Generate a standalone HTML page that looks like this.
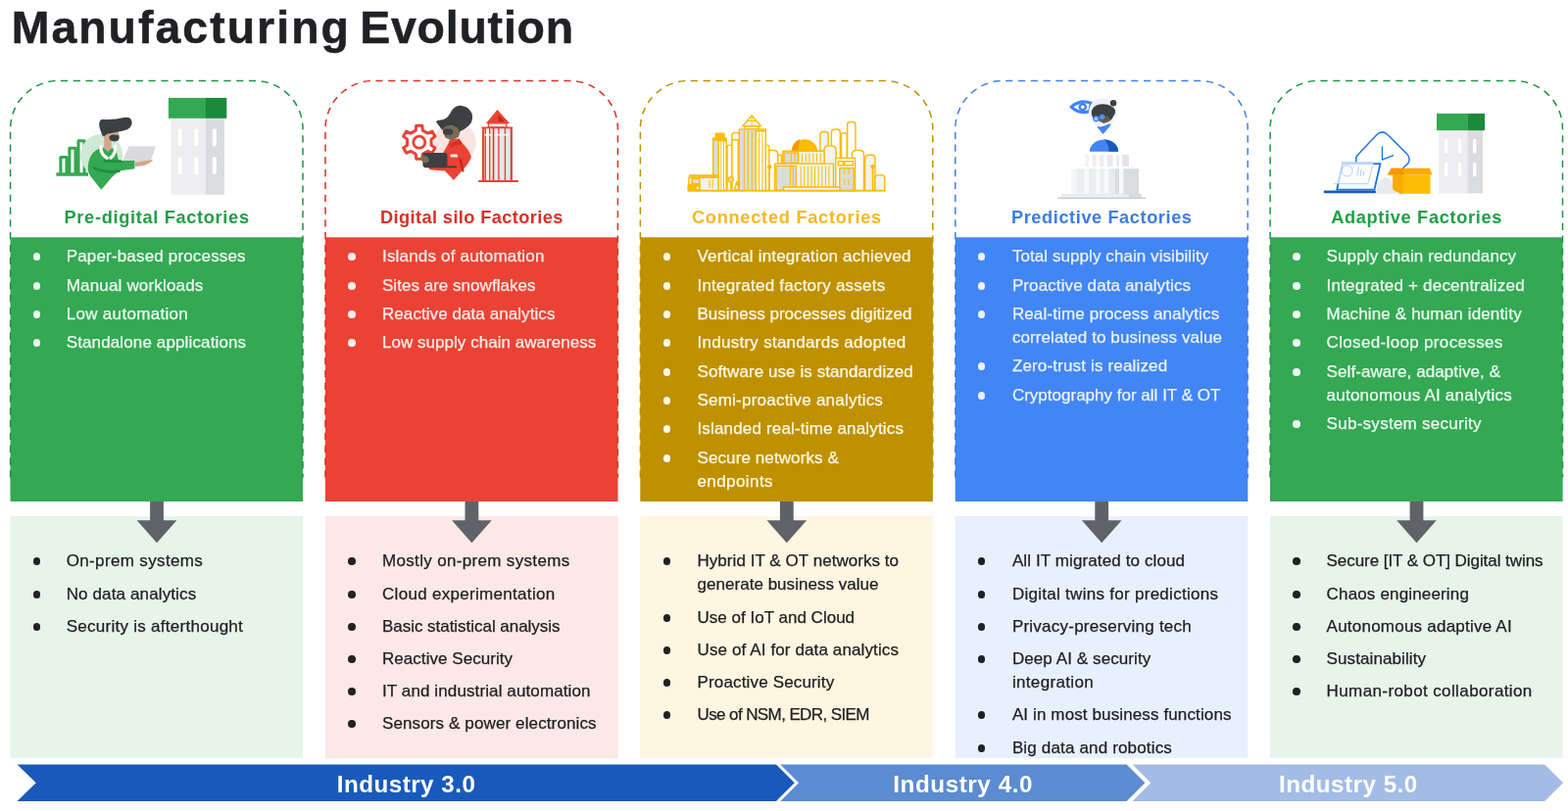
<!DOCTYPE html>
<html lang="en">
<head>
<meta charset="utf-8">
<title>Manufacturing Evolution</title>
<style>
*{box-sizing:border-box}
html,body{margin:0;padding:0;background:#fff}
body{width:1600px;height:828px;overflow:hidden;font-family:"Liberation Sans",sans-serif}
.page{position:relative;width:1600px;height:828px;overflow:hidden;background:#fff;will-change:transform}
.art{position:absolute;left:0;top:0;width:1600px;height:828px;display:block}
.title{position:absolute;left:11.7px;top:0;margin:0;font-size:46.4px;line-height:56px;font-weight:700;color:#202124;word-spacing:-3.6px;white-space:nowrap;-webkit-text-stroke:0.5px #202124}
.title .w1{letter-spacing:2.05px}
.title .w2{letter-spacing:0.82px}
.col{position:absolute;top:0;width:298.6px;height:0}
.col h2{position:absolute;left:0;top:208.6px;width:298.6px;margin:0;text-align:center;font-size:18.2px;line-height:26px;font-weight:700;white-space:nowrap}
.col ul{list-style:none;margin:0;padding:0}
.col li{position:absolute;left:57.2px;font-size:17px;line-height:24px;white-space:nowrap;-webkit-text-stroke:0.25px currentColor}
.col li span{display:block}
.col li::before{content:"";position:absolute;left:-34px;top:8.2px;width:7.6px;height:7.6px;border-radius:50%;background:currentColor}
.col .bot{color:#202124}
.era{position:absolute;top:781.5px;height:37.5px;line-height:37.5px;font-size:24.2px;font-weight:700;color:#fff;text-align:left;white-space:nowrap}

.e1{left:343.8px;letter-spacing:0.48px}
.e2{left:911.2px;letter-spacing:0.6px}
.e3{left:1305px;letter-spacing:0.5px}

.c0 h2{color:#1EA045}.c0 .top{color:#EDFAF1}.c0 li{left:57.2px}.c0 li::before{left:-33.8px}
.c1 h2{color:#D93025}.c1 .top{color:#FFEDEA}.c1 li{left:58.1px}.c1 li::before{left:-34.9px}
.c2 h2{color:#F6B822}.c2 .top{color:#FFF9E3}.c2 li{left:58.2px}.c2 li::before{left:-34.9px}
.c3 h2{color:#3B7DE4}.c3 .top{color:#ECF3FF}.c3 li{left:58.2px}.c3 li::before{left:-35.0px}
.c4 h2{color:#1EA045}.c4 .top{color:#EDFAF1}.c4 li{left:57.6px}.c4 li::before{left:-34.4px}
</style>
</head>
<body>
<main class="page">
<svg class="art" width="1600" height="828" viewBox="0 0 1600 828" aria-hidden="true">
<g>
<rect x="10.50" y="242.3" width="298.6" height="269.7" fill="#34A853"/>
<rect x="10.50" y="527" width="298.6" height="247" fill="#E6F4EA"/>
<path d="M10.60 487.50 V131.50 A49 49 0 0 1 59.60 82.50 H260.00 A49 49 0 0 1 309.00 131.50 V487.50" fill="none" stroke="#1A9441" stroke-width="1.5" stroke-dasharray="7.2 5.6"/>
<path d="M153.10 512h13.8v19.3h13.4l-20.3 23l-20.3 -23h13.4z" fill="#5F6368"/>
</g>
<g>
<rect x="331.90" y="242.3" width="298.6" height="269.7" fill="#EA4335"/>
<rect x="331.90" y="527" width="298.6" height="247" fill="#FCE8E6"/>
<path d="M332.00 487.50 V131.50 A49 49 0 0 1 381.00 82.50 H581.40 A49 49 0 0 1 630.40 131.50 V487.50" fill="none" stroke="#D93025" stroke-width="1.5" stroke-dasharray="7.2 5.6"/>
<path d="M474.50 512h13.8v19.3h13.4l-20.3 23l-20.3 -23h13.4z" fill="#5F6368"/>
</g>
<g>
<rect x="653.30" y="242.3" width="298.6" height="269.7" fill="#BF9000"/>
<rect x="653.30" y="527" width="298.6" height="247" fill="#FEF6E1"/>
<path d="M653.40 487.50 V131.50 A49 49 0 0 1 702.40 82.50 H902.80 A49 49 0 0 1 951.80 131.50 V487.50" fill="none" stroke="#BF9000" stroke-width="1.5" stroke-dasharray="7.2 5.6"/>
<path d="M795.90 512h13.8v19.3h13.4l-20.3 23l-20.3 -23h13.4z" fill="#5F6368"/>
</g>
<g>
<rect x="974.70" y="242.3" width="298.6" height="269.7" fill="#4285F4"/>
<rect x="974.70" y="527" width="298.6" height="247" fill="#E8F0FE"/>
<path d="M974.80 487.50 V131.50 A49 49 0 0 1 1023.80 82.50 H1224.20 A49 49 0 0 1 1273.20 131.50 V487.50" fill="none" stroke="#3E80EC" stroke-width="1.5" stroke-dasharray="7.2 5.6"/>
<path d="M1117.30 512h13.8v19.3h13.4l-20.3 23l-20.3 -23h13.4z" fill="#5F6368"/>
</g>
<g>
<rect x="1296.00" y="242.3" width="298.6" height="269.7" fill="#34A853"/>
<rect x="1296.00" y="527" width="298.6" height="247" fill="#E6F4EA"/>
<path d="M1296.10 487.50 V131.50 A49 49 0 0 1 1345.10 82.50 H1545.50 A49 49 0 0 1 1594.50 131.50 V487.50" fill="none" stroke="#1A9441" stroke-width="1.5" stroke-dasharray="7.2 5.6"/>
<path d="M1438.60 512h13.8v19.3h13.4l-20.3 23l-20.3 -23h13.4z" fill="#5F6368"/>
</g>
<path d="M17.5 780.5H792l18.75 18.75L792 818H17.5l19.25 -18.75z" fill="#185ABC"/>
<path d="M796.3 780.5H1149.6l18.75 18.75L1149.6 818H796.3l18.75 -18.75z" fill="#5B8BD0"/>
<path d="M1155.5 780.5H1576.25l18.75 18.75L1576.25 818H1155.5l18.75 -18.75z" fill="#A3BCE5"/>
<g>
<path d="M57.4 177.9H90" stroke="#34A853" stroke-width="3.5" fill="none"/>
<path d="M61.9 177V160.5h6.1V177M70.9 177V151.3h6.1V177M80 177V143.7h6.1V177" stroke="#34A853" stroke-width="3.1" fill="none" stroke-linejoin="round"/>
<circle cx="103.6" cy="158.4" r="21.6" fill="#CEEAD6"/>
<path d="M131.5 149.2h25.8q1.8 0 1.2 1.7l-4.6 12.6q-.6 1.6 -2.3 1.6h-27z" fill="#D9DADD"/>
<path d="M103.3 193.8L92 179.5Q88.6 174 90.2 166.5Q92.5 153.5 104 150.8L112.5 150.5L118.5 153L121 164H137.5V172.2L121.5 174.6L114.5 180.5z" fill="#34A853"/>
<path d="M96 171.5q12 5.5 25.5 3.2" stroke="#1E8E3E" stroke-width="2.8" fill="none" stroke-linecap="round"/>
<path d="M107 164.6h16" stroke="#1E8E3E" stroke-width="2.6" fill="none" stroke-linecap="round"/>
<path d="M106.2 136h7l.6 15.5l-3.6 3.5l-4 -3.5z" fill="#D2A98A"/>
<path d="M103 149.5q-.6 8 6.2 11.8M117.5 149.5q1 7 -4.6 11.6" stroke="#fff" stroke-width="3.3" fill="none" stroke-linecap="round"/>
<path d="M104.5 128h14l3.2 9.5l-4 6.5h-8.5l-4.7 -6z" fill="#D2A98A"/>
<path d="M104.6 138.4Q100 128.5 101.6 124.2Q102.6 121.6 106 121.9Q118 122.3 126.5 120Q133.5 118.6 134.6 124.2Q135.3 130.6 127 133.3L112.5 136.2Q108 136.6 106.6 139.2z" fill="#3C4043"/>
<path d="M111.2 140.2q1.2 -3 5.4 -2.6l4.6 .3q1.3 3.4 -.9 5.6q-4.6 2 -8 -.5z" fill="#3C4043"/>
<path d="M138 165.5q6 -.2 10 -1.4l7.6 -.8q.9 1 -1.6 2.3q-5.6 4 -11 4l-5 .6z" fill="#D2A98A"/>
</g>
<g transform="translate(171.90 99.90) scale(1)">
<rect x="2.6" y="20.6" width="35.6" height="78.2" fill="#EEEEF0"/>
<rect x="38" y="20.6" width="19" height="78.2" fill="#DADCE0"/>
<rect x="0" y="0" width="38.2" height="20.9" fill="#34A853"/>
<rect x="38" y="0" width="21.4" height="20.9" fill="#1B8A3B"/>
<rect x="9.8" y="31.4" width="4" height="18.2" rx="2" fill="#fff"/>
<rect x="9.8" y="60.1" width="4" height="18.2" rx="2" fill="#fff"/>
<rect x="26.5" y="31.4" width="4" height="18.2" rx="2" fill="#fff"/>
<rect x="26.5" y="60.1" width="4" height="18.2" rx="2" fill="#fff"/>
<rect x="44.9" y="31.4" width="4" height="18.2" rx="2" fill="#fff"/>
<rect x="44.9" y="60.1" width="4" height="18.2" rx="2" fill="#fff"/>
</g>
<g>
<circle cx="464.2" cy="145.8" r="21.6" fill="#FCE4E1"/>
<path d="M424.28 133.10 L424.75 128.27 L430.85 128.27 L431.32 133.10 L436.52 136.11 L440.94 134.10 L443.98 139.37 L440.04 142.19 L440.04 148.21 L443.98 151.03 L440.94 156.30 L436.52 154.29 L431.32 157.30 L430.85 162.13 L424.75 162.13 L424.28 157.30 L419.08 154.29 L414.66 156.30 L411.62 151.03 L415.56 148.21 L415.56 142.19 L411.62 139.37 L414.66 134.10 L419.08 136.11Z" fill="#fff" stroke="#EA4335" stroke-width="3.0" stroke-linejoin="round"/>
<circle cx="427.8" cy="145.2" r="6" fill="#fff" stroke="#EA4335" stroke-width="2.8"/>
<path d="M463 184L454 174.5L440 173.6Q436.5 172.6 437.5 169L451 158L457.5 146.5L459 142.5L468.5 141.5L472 146.5Q478 152 481 160Q478.5 167 473 172.5z" fill="#EA4335"/>
<path d="M458.6 146.6l10.6 -3.8l2.6 3.6l-12 4.6z" fill="#D93025"/>
<path d="M469.5 162.5l3 12" stroke="#C5221F" stroke-width="2.2" fill="none" stroke-linecap="round"/>
<rect x="459.6" y="157.4" width="7.4" height="3.2" rx="1.2" fill="#E8EAED"/>
<path d="M451 131.5q1 -3.4 6 -3.6l9 1l3.5 5.5l-1.6 5.4l-6.6 3.6l-7 -3z" fill="#7A6A58"/>
<rect x="452" y="131.6" width="10.4" height="6.2" rx="3" fill="#3C4043"/>
<path d="M451 132.4L445 124.4Q445.6 122.6 448 122.8Q456 122.4 459.4 115.4Q463 108 469.6 107.8Q477.6 108.2 481.4 115.4Q483.4 122.4 479.2 127.6Q474.6 132.4 468.4 134.4L467 130.6Q460 126.4 453.6 129.6z" fill="#3C4043"/>
<rect x="431.4" y="156" width="25" height="14.8" rx="2.4" fill="#3C4043"/>
<path d="M434 170.4h31" stroke="#3C4043" stroke-width="1.8" stroke-linecap="round"/>
<ellipse cx="433.6" cy="162.6" rx="4.4" ry="3.4" fill="#7A6A58" transform="rotate(35 433.6 162.6)"/>
<rect x="492" y="130" width="11.4" height="54.6" fill="#FDEDEB"/>
<rect x="503.4" y="130" width="19.4" height="54.6" fill="#E6E6EC"/>
<path d="M495.3 131V184.6M499.7 131V184.6M508.9 131V184.6M515.4 131V184.6" stroke="#EA4335" stroke-width="1.4" fill="none"/>
<path d="M494 137.6h8.4M504.6 137.6h16" stroke="#FDF3F2" stroke-width="1.6" fill="none"/>
<path d="M503.5 130V184.6" stroke="#D93025" stroke-width="1.5" fill="none"/>
<path d="M493.1 130V184.6" stroke="#EA4335" stroke-width="2.2" fill="none"/>
<path d="M521.8 130V184.6" stroke="#D5493D" stroke-width="2.2" fill="none"/>
<path d="M491.4 130.4H523.2" stroke="#EA4335" stroke-width="1.8" fill="none"/>
<path d="M488.2 185H529" stroke="#EA4335" stroke-width="2.2"/>
<rect x="498.4" y="125.6" width="18.4" height="4.2" fill="#FDEDEB" stroke="#EA4335" stroke-width="1.3"/>
<path d="M507.5 112.6L519.4 125.8H496.6z" fill="#EA4335" stroke="#EA4335" stroke-width="1" stroke-linejoin="round"/>
<path d="M508.8 117.6L515 124.2h-6.2z" fill="#C5221F"/>
</g>
<g transform="translate(690 105) scale(0.14375)" stroke="#FBBC04" stroke-width="10" stroke-linejoin="round" fill="#fff">
<path d="M1022 622V225.88Q1022 205 1042.88 205H1059.12Q1080 205 1080 225.88V622z" fill="#F1F3F4"/>
<path d="M1102 622V210.32Q1102 188 1124.32 188H1141.68Q1164 188 1164 210.32V622z" fill="#fff"/>
<path d="M1172 622V229.4Q1172 215 1186.4 215H1197.6Q1212 215 1212 229.4V622z" fill="#fff"/>
<path d="M1215 622V155.88Q1215 135 1235.88 135H1252.12Q1273 135 1273 155.88V622z" fill="#fff"/>
<path d="M1050 622V335.6Q1050 305 1080.6 305H1104.4Q1135 305 1135 335.6V622z" fill="#F1F3F4"/>
<path d="M1340 622V395.92Q1340 370 1365.92 370H1386.08Q1412 370 1412 395.92V622z" fill="#F1F3F4"/>
<path d="M1412 622V536.48Q1412 512 1436.48 512H1455.52Q1480 512 1480 536.48V622z" fill="#F1F3F4"/>
<path d="M1248 622V368.24Q1248 338 1278.24 338H1301.76Q1332 338 1332 368.24V622z" fill="#fff"/>
<rect x="1132" y="392" width="138" height="230" rx="0" fill="#fff"/>
<rect x="1150" y="415" width="35" height="28" rx="0" fill="#fff"/>
<rect x="1195" y="415" width="60" height="28" rx="0" fill="#fff"/>
<rect x="1160" y="462" width="100" height="160" rx="0" fill="#DADCE0"/>
<path d="M1195.0 470V510M1225.0 470V510" stroke="#FBBC04" stroke-width="7" fill="none"/>
<path d="M1195.0 540V585M1225.0 540V585" stroke="#FBBC04" stroke-width="7" fill="none"/>
<path d="M1395 622V455" stroke-width="12"/>
<circle cx="1395" cy="452" r="10" fill="#FBBC04"/>
<path d="M362 622V312.24Q362 300 374.24 300H383.76Q396 300 396 312.24V622z" fill="#fff"/>
<path d="M396 622V232.16Q396 212 416.16 212H431.84Q452 212 452 232.16V622z" fill="#fff"/>
<rect x="396" y="262" width="44" height="360" rx="0" fill="#fff"/>
<path d="M640 622V367.52Q640 338 669.52 338H692.48Q722 338 722 367.52V622z" fill="#fff"/>
<path d="M630 622V310.8Q630 300 640.8 300H649.2Q660 300 660 310.8V622z" fill="#fff"/>
<rect x="722" y="372" width="26" height="60" rx="0" fill="#fff"/>
<rect x="280" y="218" width="60" height="34" rx="0" fill="#FBBC04"/>
<rect x="262" y="252" width="94" height="370" rx="0" fill="#DADCE0"/>
<rect x="300" y="270" width="56" height="352" rx="0" fill="#fff"/>
<path d="M318.7 275V622M337.3 275V622" stroke="#FBBC04" stroke-width="7" fill="none"/>
<path d="M262 262h94" stroke-width="14"/>
<path d="M537 90L602 165H472z" fill="#fff"/>
<path d="M537 95V165M505 128h64" fill="none" stroke-width="7"/>
<rect x="488" y="165" width="98" height="22" rx="0" fill="#F1F3F4"/>
<rect x="447" y="187" width="188" height="435" rx="0" fill="#DADCE0"/>
<rect x="565" y="200" width="70" height="422" rx="0" fill="#fff"/>
<path d="M482.5 200V622M510.0 200V622M537.5 200V622" stroke="#FBBC04" stroke-width="7" fill="none"/>
<path d="M588.3 200V622M611.7 200V622" stroke="#FBBC04" stroke-width="7" fill="none"/>
<path d="M575 212h55M575 236h55" stroke="#fff" stroke-width="5"/>
<path d="M822 340A90 90 0 0 1 1000 340z" fill="#FBBC04"/>
<path d="M822 340A90 90 0 0 1 878 258L866 340z" fill="#F29900" stroke="none"/>
<rect x="757" y="342" width="294" height="90" rx="0" fill="#F1F3F4"/>
<rect x="765" y="355" width="100" height="72" rx="0" fill="#DADCE0"/>
<path d="M816.0 360V420M842.0 360V420M868.0 360V420M894.0 360V420M920.0 360V420M946.0 360V420M972.0 360V420M998.0 360V420M1024.0 360V420" stroke="#FBBC04" stroke-width="7" fill="none"/>
<rect x="700" y="432" width="416" height="190" rx="0" fill="#F1F3F4"/>
<rect x="710" y="448" width="140" height="172" rx="0" fill="#DADCE0"/>
<path d="M810.0 448V600M830.0 448V600" stroke="#FBBC04" stroke-width="7" fill="none"/>
<path d="M885.0 450V600M910.0 450V600M935.0 450V600M960.0 450V600M985.0 450V600M1010.0 450V600M1035.0 450V600M1060.0 450V600M1085.0 450V600" stroke="#FBBC04" stroke-width="7" fill="none"/>
<rect x="762" y="598" width="400" height="24" rx="0" fill="#F1F3F4"/>
<path d="M662 622V460" stroke-width="12"/>
<circle cx="662" cy="455" r="11" fill="#FBBC04"/>
<path d="M388 622V550" stroke-width="9"/>
<circle cx="388" cy="545" r="18" fill="#DADCE0"/>
<path d="M430 560l-16 55h32z" fill="#F1F3F4"/>
<rect x="90" y="530" width="210" height="92" rx="0" fill="#F1F3F4"/>
<rect x="112" y="540" width="55" height="36" rx="0" fill="#DADCE0"/>
<rect x="85" y="582" width="82" height="40" rx="0" fill="#FBBC04"/>
<rect x="140" y="590" width="24" height="28" rx="0" fill="#F1F3F4"/>
<path d="M236.7 545V605M258.3 545V605" stroke="#FBBC04" stroke-width="7" fill="none"/>
<path d="M92 518h208" stroke-width="18"/>
<path d="M85 624H1482" stroke-width="10" stroke-linecap="round"/>
</g>
<g transform="translate(1040 90) scale(0.14493)">
<path d="M366 132Q432 78 506 106L496 160Q430 190 366 132z" fill="#fff" stroke="#4285F4" stroke-width="22" stroke-linejoin="round"/>
<circle cx="447" cy="133" r="21" fill="#fff" stroke="#4285F4" stroke-width="17"/>
<path d="M590 322L515 235A100 100 0 1 1 665 235z" fill="#EDF1FC"/>
<path d="M590 322L548 272L645 250L640 265z" fill="#4285F4"/>
<path d="M560 262l60 -14l-8 26l-40 8z" fill="#fff" opacity=".85"/>
<path d="M590 322L553 278L640 256L636 268z" fill="#4285F4"/>
<path d="M545 185h100l-8 48l-42 16l-40 -22z" fill="#6B5B4B"/>
<path d="M515 200Q495 150 540 122Q600 100 650 128Q690 150 672 185Q655 215 640 232L632 205Q600 185 560 196Q530 205 522 215z" fill="#3C4043"/>
<circle cx="663" cy="105" r="22" fill="#3C4043"/>
<circle cx="541" cy="216" r="17" fill="#AECBFA" stroke="#4285F4" stroke-width="9"/>
<circle cx="584" cy="203" r="15" fill="#5E97F6" stroke="#4285F4" stroke-width="9"/>
<path d="M496 446A101 84 0 0 1 698 446z" fill="#4285F4"/>
<path d="M600 362A101 84 0 0 1 698 446H632Q632 395 600 362z" fill="#185ABC"/>
<rect x="430" y="470" width="342" height="82" fill="#F1F3F4"/>
<rect x="430" y="470" width="36" height="82" fill="#fff"/>
<rect x="466" y="470" width="26" height="82" fill="#F1F3F4"/>
<rect x="492" y="470" width="24" height="82" fill="#fff"/>
<rect x="516" y="470" width="26" height="82" fill="#EEEEF0"/>
<rect x="542" y="470" width="24" height="82" fill="#fff"/>
<rect x="566" y="470" width="30" height="82" fill="#EEEEF0"/>
<rect x="596" y="470" width="24" height="82" fill="#fff"/>
<rect x="620" y="470" width="40" height="82" fill="#E8EAED"/>
<rect x="660" y="470" width="26" height="82" fill="#fff"/>
<rect x="686" y="470" width="18" height="82" fill="#E8EAED"/>
<rect x="704" y="470" width="22" height="82" fill="#fff"/>
<rect x="726" y="470" width="46" height="82" fill="#E2E3E6"/>
<rect x="368" y="568" width="474" height="180" fill="#F1F3F4"/>
<rect x="368" y="568" width="40" height="180" fill="#F4F5F6"/>
<rect x="408" y="568" width="52" height="180" fill="#ECEDEF"/>
<rect x="460" y="568" width="30" height="180" fill="#F8F9FA"/>
<rect x="490" y="568" width="50" height="180" fill="#ECEDEF"/>
<rect x="540" y="568" width="30" height="180" fill="#F8F9FA"/>
<rect x="570" y="568" width="30" height="180" fill="#ECEDEF"/>
<rect x="600" y="568" width="30" height="180" fill="#F8F9FA"/>
<rect x="630" y="568" width="44" height="180" fill="#E8EAED"/>
<rect x="674" y="568" width="30" height="180" fill="#DADCE0"/>
<rect x="704" y="568" width="30" height="180" fill="#F8F9FA"/>
<rect x="734" y="568" width="108" height="180" fill="#DADCE0"/>
<rect x="296" y="745" width="566" height="26" fill="#ECEDEF"/>
<rect x="772" y="745" width="90" height="26" fill="#DADCE0"/>
<rect x="268" y="770" width="624" height="9" fill="#C4C7CC"/>
</g>
<g transform="translate(1340 100) scale(0.13289)">
<path d="M330 490V470Q325 455 345 435L490 280Q530 245 570 280L720 430Q750 465 730 500L690 540" fill="none" stroke="#1A73E8" stroke-width="11" stroke-linecap="round" stroke-linejoin="round"/>
<path d="M530 375V475L615 442" fill="none" stroke="#1A73E8" stroke-width="10" stroke-linecap="round" stroke-linejoin="round"/>
<path d="M480 735Q490 640 550 610Q610 610 625 700L650 735z" fill="#E8EAED"/>
<path d="M225 505H515L470 705H182z" fill="#fff" stroke="#1A73E8" stroke-width="14" stroke-linejoin="round"/>
<path d="M90 722H472" stroke="#185ABC" stroke-width="20" stroke-linecap="round"/>
<path d="M215 495H465L420 660H155" fill="#fff" fill-opacity=".7" stroke="#8AB4F8" stroke-width="5"/>
<circle cx="260" cy="560" r="42" fill="none" stroke="#8AB4F8" stroke-width="5"/>
<path d="M350 530l-12 70M370 545l-8 55M388 565l-5 35" stroke="#8AB4F8" stroke-width="5" fill="none"/>
<path d="M610 590H900V735H670Q625 720 610 700z" fill="#FBBC04"/>
<path d="M610 590H690V735H670L615 700z" fill="#F9AB00"/>
<path d="M600 540H895L915 590H570z" fill="#F9AB00"/>
<path d="M600 540H690L700 590H570z" fill="#F29900"/>
</g>
<g transform="translate(1466.00 115.90) scale(0.825)">
<rect x="2.6" y="20.6" width="35.6" height="78.2" fill="#EEEEF0"/>
<rect x="38" y="20.6" width="19" height="78.2" fill="#DADCE0"/>
<rect x="0" y="0" width="38.2" height="20.9" fill="#34A853"/>
<rect x="38" y="0" width="21.4" height="20.9" fill="#1B8A3B"/>
<rect x="9.8" y="31.4" width="4" height="18.2" rx="2" fill="#fff"/>
<rect x="9.8" y="60.1" width="4" height="18.2" rx="2" fill="#fff"/>
<rect x="26.5" y="31.4" width="4" height="18.2" rx="2" fill="#fff"/>
<rect x="26.5" y="60.1" width="4" height="18.2" rx="2" fill="#fff"/>
<rect x="44.9" y="31.4" width="4" height="18.2" rx="2" fill="#fff"/>
<rect x="44.9" y="60.1" width="4" height="18.2" rx="2" fill="#fff"/>
</g>
</svg>
<h1 class="title"><span class="w1">Manufacturing</span> <span class="w2">Evolution</span></h1>
<section class="col c0" style="left:10.50px">
<h2 style="letter-spacing:0.681px;margin-left:0.341px">Pre-digital Factories</h2>
<ul class="top">
<li style="top:250px">
<span style="letter-spacing:0.169px">Paper-based processes</span>
</li>
<li style="top:280px">
<span style="letter-spacing:0.174px">Manual workloads</span>
</li>
<li style="top:309px">
<span style="letter-spacing:0.313px">Low automation</span>
</li>
<li style="top:338px">
<span style="letter-spacing:0.129px">Standalone applications</span>
</li>
</ul>
<ul class="bot">
<li style="top:561px">
<span style="letter-spacing:0.358px">On-prem systems</span>
</li>
<li style="top:595px">
<span style="letter-spacing:0.129px">No data analytics</span>
</li>
<li style="top:628px">
<span style="letter-spacing:0.272px">Security is afterthought</span>
</li>
</ul>
</section>
<section class="col c1" style="left:331.90px">
<h2 style="letter-spacing:0.395px;margin-left:0.198px">Digital silo Factories</h2>
<ul class="top">
<li style="top:250px">
<span style="letter-spacing:0.190px">Islands of automation</span>
</li>
<li style="top:280px">
<span style="letter-spacing:0.030px">Sites are snowflakes</span>
</li>
<li style="top:309px">
<span style="letter-spacing:0.073px">Reactive data analytics</span>
</li>
<li style="top:338px">
<span style="letter-spacing:0.037px">Low supply chain awareness</span>
</li>
</ul>
<ul class="bot">
<li style="top:561px">
<span style="letter-spacing:0.332px">Mostly on-prem systems</span>
</li>
<li style="top:595px">
<span style="letter-spacing:0.305px">Cloud experimentation</span>
</li>
<li style="top:628px">
<span style="letter-spacing:-0.032px">Basic statistical analysis</span>
</li>
<li style="top:661px">
<span style="letter-spacing:0.049px">Reactive Security</span>
</li>
<li style="top:694px">
<span style="letter-spacing:0.111px">IT and industrial automation</span>
</li>
<li style="top:727px">
<span style="letter-spacing:0.121px">Sensors &amp; power electronics</span>
</li>
</ul>
</section>
<section class="col c2" style="left:653.30px">
<h2 style="letter-spacing:0.743px;margin-left:0.372px">Connected Factories</h2>
<ul class="top">
<li style="top:250px">
<span style="letter-spacing:0.192px">Vertical integration achieved</span>
</li>
<li style="top:280px">
<span style="letter-spacing:0.230px">Integrated factory assets</span>
</li>
<li style="top:309px">
<span style="letter-spacing:0.029px">Business processes digitized</span>
</li>
<li style="top:338px">
<span style="letter-spacing:0.272px">Industry standards adopted</span>
</li>
<li style="top:368px">
<span style="letter-spacing:0.075px">Software use is standardized</span>
</li>
<li style="top:397px">
<span style="letter-spacing:0.223px">Semi-proactive analytics</span>
</li>
<li style="top:426px">
<span style="letter-spacing:0.165px">Islanded real-time analytics</span>
</li>
<li style="top:456px">
<span style="letter-spacing:0.104px">Secure networks &amp;</span>
<span style="letter-spacing:0.419px">endpoints</span>
</li>
</ul>
<ul class="bot">
<li style="top:561px">
<span style="letter-spacing:0.047px">Hybrid IT &amp; OT networks to</span>
<span style="letter-spacing:0.035px">generate business value</span>
</li>
<li style="top:619px">
<span style="letter-spacing:0.013px">Use of IoT and Cloud</span>
</li>
<li style="top:652px">
<span style="letter-spacing:0.121px">Use of AI for data analytics</span>
</li>
<li style="top:685px">
<span style="letter-spacing:0.156px">Proactive Security</span>
</li>
<li style="top:718px">
<span style="letter-spacing:-0.599px">Use of NSM, EDR, SIEM</span>
</li>
</ul>
</section>
<section class="col c3" style="left:974.70px">
<h2 style="letter-spacing:0.585px;margin-left:0.293px">Predictive Factories</h2>
<ul class="top">
<li style="top:250px">
<span style="letter-spacing:0.072px">Total supply chain visibility</span>
</li>
<li style="top:280px">
<span style="letter-spacing:0.115px">Proactive data analytics</span>
</li>
<li style="top:309px">
<span style="letter-spacing:0.131px">Real-time process analytics</span>
<span style="letter-spacing:0.090px">correlated to business value</span>
</li>
<li style="top:362px">
<span style="letter-spacing:0.157px">Zero-trust is realized</span>
</li>
<li style="top:392px">
<span style="letter-spacing:0.009px">Cryptography for all IT &amp; OT</span>
</li>
</ul>
<ul class="bot">
<li style="top:561px">
<span style="letter-spacing:0.111px">All IT migrated to cloud</span>
</li>
<li style="top:595px">
<span style="letter-spacing:0.283px">Digital twins for predictions</span>
</li>
<li style="top:628px">
<span style="letter-spacing:0.238px">Privacy-preserving tech</span>
</li>
<li style="top:661px">
<span style="letter-spacing:0.092px">Deep AI &amp; security</span>
<span style="letter-spacing:0.337px">integration</span>
</li>
<li style="top:718px">
<span style="letter-spacing:0.122px">AI in most business functions</span>
</li>
<li style="top:752px">
<span style="letter-spacing:0.161px">Big data and robotics</span>
</li>
</ul>
</section>
<section class="col c4" style="left:1296.00px">
<h2 style="letter-spacing:0.680px;margin-left:0.340px">Adaptive Factories</h2>
<ul class="top">
<li style="top:250px">
<span style="letter-spacing:0.117px">Supply chain redundancy</span>
</li>
<li style="top:280px">
<span style="letter-spacing:0.198px">Integrated + decentralized</span>
</li>
<li style="top:309px">
<span style="letter-spacing:0.150px">Machine &amp; human identity</span>
</li>
<li style="top:338px">
<span style="letter-spacing:0.337px">Closed-loop processes</span>
</li>
<li style="top:368px">
<span style="letter-spacing:0.076px">Self-aware, adaptive, &amp;</span>
<span style="letter-spacing:0.223px">autonomous AI analytics</span>
</li>
<li style="top:421px">
<span style="letter-spacing:0.271px">Sub-system security</span>
</li>
</ul>
<ul class="bot">
<li style="top:561px">
<span style="letter-spacing:-0.058px">Secure [IT &amp; OT] Digital twins</span>
</li>
<li style="top:595px">
<span style="letter-spacing:0.158px">Chaos engineering</span>
</li>
<li style="top:628px">
<span style="letter-spacing:0.227px">Autonomous adaptive AI</span>
</li>
<li style="top:661px">
<span style="letter-spacing:0.095px">Sustainability</span>
</li>
<li style="top:694px">
<span style="letter-spacing:0.391px">Human-robot collaboration</span>
</li>
</ul>
</section>
<div class="era e1">Industry 3.0</div>
<div class="era e2">Industry 4.0</div>
<div class="era e3">Industry 5.0</div>
</main>
</body>
</html>
